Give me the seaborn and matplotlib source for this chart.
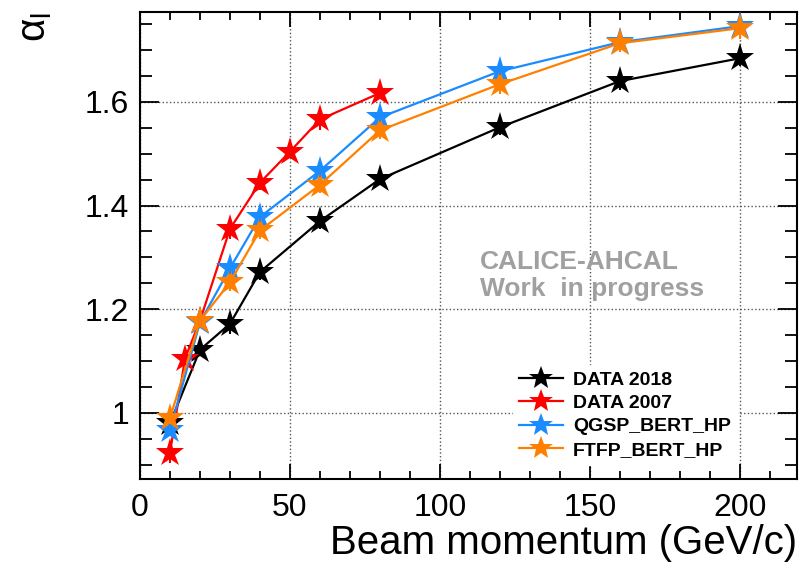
import numpy as np
import pandas as pd
import seaborn as sns
import matplotlib.pyplot as plt
from matplotlib.ticker import MultipleLocator

# Beam momentum points (GeV/c)
mom_2018 = [10, 20, 30, 40, 60, 80, 120, 160, 200]
alpha_2018 = [0.98, 1.122, 1.172, 1.272, 1.370, 1.451, 1.551, 1.640, 1.684]
err_2018 = [0.012, 0.012, 0.020, 0.015, 0.016, 0.012, 0.014, 0.018, 0.014]

mom_2007 = [10, 15, 20, 30, 40, 50, 60, 80]
alpha_2007 = [0.923, 1.105, 1.178, 1.355, 1.444, 1.504, 1.566, 1.617]
err_2007 = [0.020, 0.012, 0.012, 0.020, 0.014, 0.012, 0.020, 0.012]

mom_sim = [10, 20, 30, 40, 60, 80, 120, 160, 200]
alpha_qgsp = [0.967, 1.175, 1.279, 1.378, 1.467, 1.570, 1.659, 1.715, 1.746]
err_qgsp = [0.012, 0.010, 0.012, 0.012, 0.012, 0.012, 0.012, 0.012, 0.014]
alpha_ftfp = [0.990, 1.178, 1.252, 1.352, 1.440, 1.545, 1.634, 1.713, 1.742]
err_ftfp = [0.012, 0.012, 0.016, 0.016, 0.016, 0.016, 0.018, 0.016, 0.020]

labels = ['DATA 2018', 'DATA 2007', 'QGSP_BERT_HP', 'FTFP_BERT_HP']
colors = ['black', '#ff0000', '#1a8cff', '#ff8000']

frames = []
for lab, x, y, e in zip(labels,
                        [mom_2018, mom_2007, mom_sim, mom_sim],
                        [alpha_2018, alpha_2007, alpha_qgsp, alpha_ftfp],
                        [err_2018, err_2007, err_qgsp, err_ftfp]):
    frames.append(pd.DataFrame({'p': x, 'alpha': y, 'err': e, 'sample': lab}))
df = pd.concat(frames, ignore_index=True)

plt.rcParams['font.family'] = ['Liberation Sans', 'DejaVu Sans']
plt.rcParams['mathtext.default'] = 'regular'
fig = plt.figure(figsize=(8, 5.67), dpi=100)
ax = fig.add_axes([0.175, 0.155, 0.821, 0.8236])

sns.lineplot(data=df, x='p', y='alpha', hue='sample', hue_order=labels,
             palette=colors, marker='*', markersize=21, markeredgewidth=0,
             linewidth=1.6, sort=False, legend=False, ax=ax, zorder=4)

# error bars drawn through the markers, as ROOT does
for lab, col in zip(labels, colors):
    sub = df[df['sample'] == lab]
    ax.errorbar(sub['p'], sub['alpha'], yerr=sub['err'], fmt='none',
                ecolor=col, elinewidth=1.5, capsize=0, zorder=5)

ax.set_xlim(0, 219)
ax.set_ylim(0.8725, 1.773)
ax.xaxis.set_major_locator(MultipleLocator(50))
ax.xaxis.set_minor_locator(MultipleLocator(10))
ax.yaxis.set_minor_locator(MultipleLocator(0.05))
ax.set_yticks([1.0, 1.2, 1.4, 1.6])
ax.set_yticklabels(['1', '1.2', '1.4', '1.6'])
ax.tick_params(which='both', direction='in', top=True, right=True, labelsize=23, width=1.3)
ax.tick_params(axis='x', which='major', length=11, pad=10)
ax.tick_params(axis='x', which='minor', length=6)
ax.tick_params(axis='y', which='major', length=14, pad=8)
ax.tick_params(axis='y', which='minor', length=8.5)
for s in ax.spines.values():
    s.set_linewidth(1.5)
ax.grid(True, which='major', linestyle=':', color='#555555', linewidth=1.0)
ax.set_axisbelow(True)

ax.set_xlabel('Beam momentum (GeV/c)', fontsize=29, loc='right', labelpad=1)
ax.set_ylabel('α$_{l}$', fontsize=29, loc='top', labelpad=22)

ax.text(0.517, 0.49, 'CALICE-AHCAL\nWork  in progress', transform=ax.transAxes,
        fontsize=19, fontweight='bold', color='#a0a0a0', linespacing=1.12, va='top')

handles = [plt.Line2D([], [], color=c, marker='*', markersize=18, markeredgewidth=0,
                      linewidth=1.6) for c in colors]
leg = ax.legend(handles, labels, loc='upper left', bbox_to_anchor=(0.553, 0.265),
                frameon=True, fancybox=False, edgecolor='white', framealpha=1,
                prop={'weight': 'bold', 'size': 14}, handlelength=2.3,
                handletextpad=0.5, labelspacing=0.3, borderpad=0.3)
leg.set_zorder(6)

plt.savefig('out.png', dpi=100)
